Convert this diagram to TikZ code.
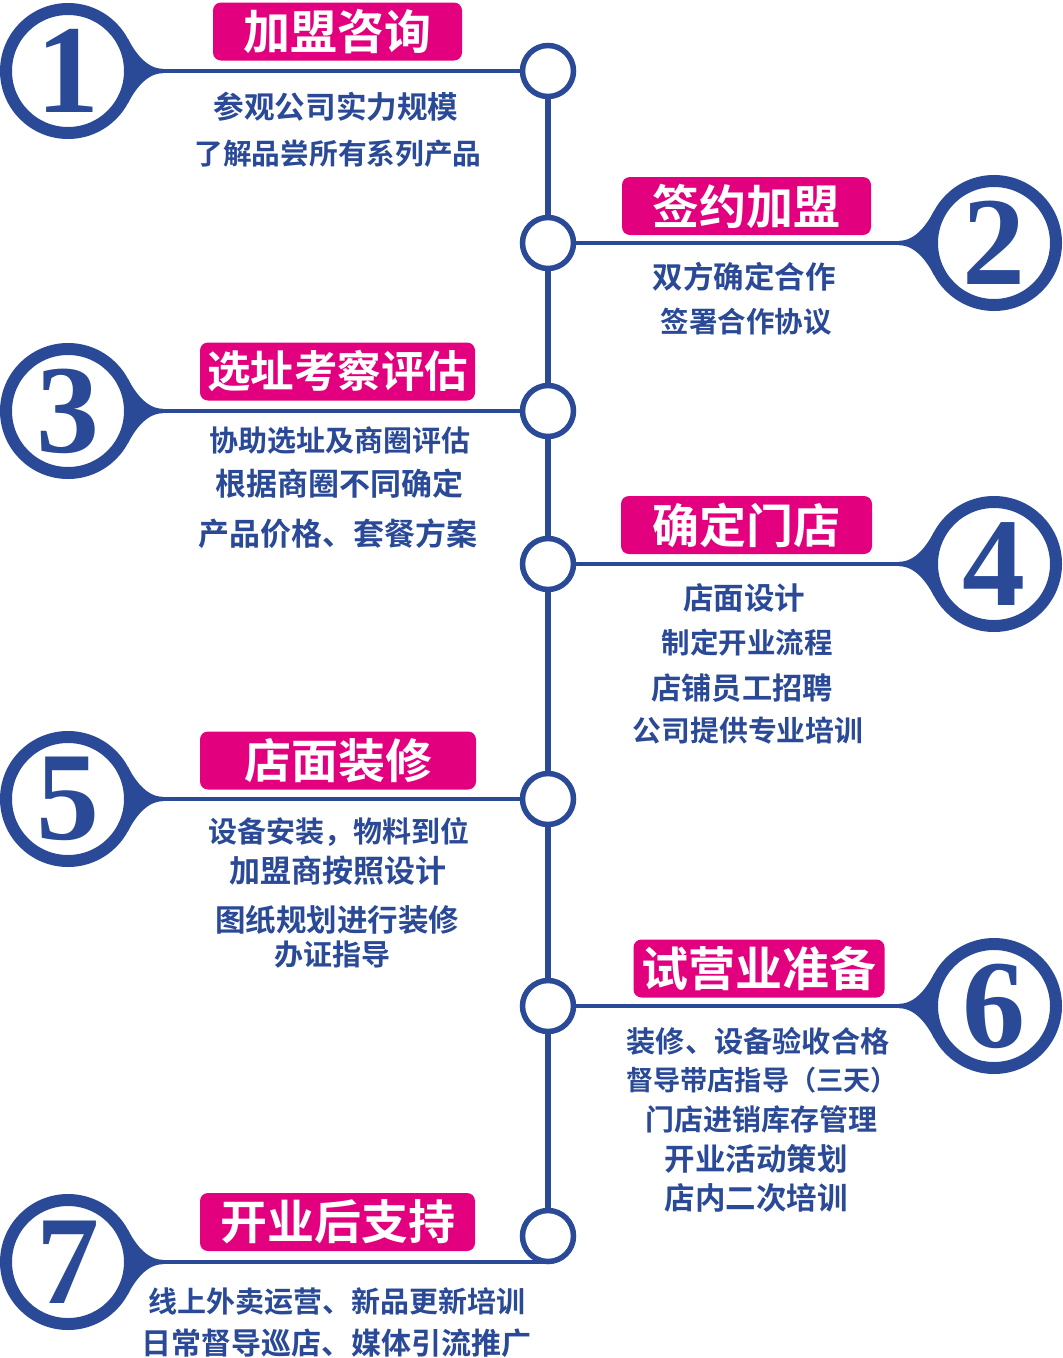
\documentclass[tikz,border=0pt]{standalone}
\usepackage{fontspec}
\newfontfamily\cjk{Noto Sans CJK SC}[BoldFont={Noto Sans CJK SC Bold}]
\newfontfamily\numfont{Liberation Serif}
\usetikzlibrary{calc}
\definecolor{blu}{HTML}{2A4A98}
\definecolor{mag}{HTML}{E3007F}
\newcommand\myflare[2]{%
 \fill[blu] ($(#1)+(#2*60,-32)$) .. controls ($(#1)+(#2*66.6,-19.7)$) and ($(#1)+(#2*78,-2.2)$) .. ($(#1)+(#2*95,-2.2)$)
   -- ($(#1)+(#2*95,2.2)$) .. controls ($(#1)+(#2*78,2.2)$) and ($(#1)+(#2*66.6,19.7)$) .. ($(#1)+(#2*60,32)$) -- cycle;}
\begin{document}
\begin{tikzpicture}[x=1pt,y=-1pt,
  bigring/.style={circle, draw=blu, line width=12pt, fill=white, minimum size=124pt, inner sep=0pt,
     text=blu, font=\numfont\bfseries\fontsize{126}{126}\selectfont},
  smallring/.style={circle, draw=blu, line width=5.5pt, fill=white, minimum size=51pt, inner sep=0pt},
  hline/.style={draw=blu, line width=4.5pt},
  vline/.style={draw=blu, line width=5.5pt},
  titlebox/.style={rectangle, rounded corners=8pt, fill=mag, text=white, inner sep=0pt,
     minimum height=58pt, font=\cjk\bfseries\fontsize{#1}{#1}\selectfont},
  titlebox/.default=47,
  bodytext/.style={text=blu, inner sep=0pt, font=\cjk\bfseries\fontsize{#1}{#1}\selectfont},
  bodytext/.default=29
]
\useasboundingbox[fill=white] (0,0) rectangle (1063,1358);

% centres of big rings
\coordinate (c1) at (68,71);
\coordinate (c2) at (994,243);
\coordinate (c3) at (68,411);
\coordinate (c4) at (994,564);
\coordinate (c5) at (68,799);
\coordinate (c6) at (994,1006);
\coordinate (c7) at (68,1262);

% small rings positions
\coordinate (p1) at (548,71);
\coordinate (p2) at (548,243);
\coordinate (p3) at (548,411);
\coordinate (p4) at (548,564);
\coordinate (p5) at (548,799);
\coordinate (p6) at (548,1006);
\coordinate (p7) at (548,1236);

% vertical spine
\draw[vline] (p1) -- (p7);

% flares
\myflare{c1}{1}
\myflare{c2}{-1}
\myflare{c3}{1}
\myflare{c4}{-1}
\myflare{c5}{1}
\myflare{c6}{-1}
\myflare{c7}{1}

% big rings
\node[bigring] (b1) at (c1) {1};
\node[bigring] (b2) at (c2) {2};
\node[bigring] (b3) at (c3) {3};
\node[bigring] (b4) at (c4) {4};
\node[bigring] (b5) at (c5) {5};
\node[bigring] (b6) at (c6) {6};
\node[bigring] (b7) at (c7) {7};

% horizontal lines
\draw[hline] (b1.east) -- (p1);
\draw[hline] (b2.west) -- (p2);
\draw[hline] (b3.east) -- (p3);
\draw[hline] (b4.west) -- (p4);
\draw[hline] (b5.east) -- (p5);
\draw[hline] (b6.west) -- (p6);
\draw[hline] (b7.east) -- (b7.east -| p7);

% small rings
\node[smallring] (s1) at (p1) {};
\node[smallring] (s2) at (p2) {};
\node[smallring] (s3) at (p3) {};
\node[smallring] (s4) at (p4) {};
\node[smallring] (s5) at (p5) {};
\node[smallring] (s6) at (p6) {};
\node[smallring] (s7) at (p7) {};

% title boxes
\node[titlebox, minimum width=249pt] (t1) at (337.5,31.5) {加盟咨询};
\node[titlebox, minimum width=249pt] (t2) at (746.5,206) {签约加盟};
\node[titlebox=43.5, minimum width=275pt] (t3) at (337.5,371.5) {选址考察评估};
\node[titlebox, minimum width=251pt] (t4) at (746.5,525) {确定门店};
\node[titlebox, minimum width=276pt] (t5) at (338,760.5) {店面装修};
\node[titlebox, minimum width=251pt] (t6) at (759,968.5) {试营业准备};
\node[titlebox, minimum width=275pt] (t7) at (337.5,1222) {开业后支持};

% body texts
\node[bodytext=30.6] (a1) at (336,107) {参观公司实力规模};
\node[bodytext=28.7] (a2) at (338,154) {了解品尝所有系列产品};

\node[bodytext=30.5] (d1) at (744,277) {双方确定合作};
\node[bodytext=28.5] (d2) at (746,322) {签署合作协议};

\node[bodytext=29] (e1) at (340,441) {协助选址及商圈评估};
\node[bodytext=31] (e2) at (339,484) {根据商圈不同确定};
\node[bodytext=31] (e3) at (338,534) {产品价格、套餐方案};

\node[bodytext=30.5] (f1) at (744,598) {店面设计};
\node[bodytext=28.5] (f2) at (747,643) {制定开业流程};
\node[bodytext=30.2] (f3) at (742,688) {店铺员工招聘};
\node[bodytext=28.8] (f4) at (748,731) {公司提供专业培训};

\node[bodytext=29] (g1) at (339,832) {设备安装，物料到位};
\node[bodytext=31] (g2) at (338,871) {加盟商按照设计};
\node[bodytext=30.5] (g3) at (337,920) {图纸规划进行装修};
\node[bodytext=29] (g4) at (332,955) {办证指导};

\node[bodytext=29.2] (h1) at (758,1041) {装修、设备验收合格};
\node[bodytext=27.2] (h2) at (762,1080) {督导带店指导（三天）};
\node[bodytext=29] (h3) at (761,1119) {门店进销库存管理};
\node[bodytext=30.5] (h4) at (756,1159) {开业活动策划};
\node[bodytext=30.5] (h5) at (756,1198) {店内二次培训};

\node[bodytext=29] (k1) at (337,1302) {线上外卖运营、新品更新培训};
\node[bodytext=30] (k2) at (336,1343) {日常督导巡店、媒体引流推广};
\end{tikzpicture}
\end{document}
